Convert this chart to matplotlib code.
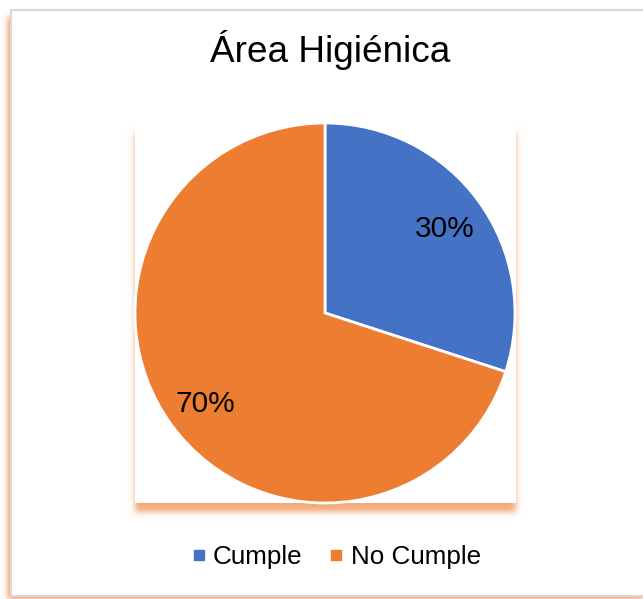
import numpy as np
import matplotlib
matplotlib.use("Agg")
import matplotlib.pyplot as plt
from matplotlib.lines import Line2D
from matplotlib.patches import Rectangle

plt.rcParams['font.family'] = ['Liberation Sans', 'DejaVu Sans']

# data
labels = ['Cumple', 'No Cumple']
values = [30, 70]
colors = ['#4472C4', '#ED7D31']
title = 'Área Higiénica'

W, H = 643, 599
fig = plt.figure(figsize=(W / 100, H / 100), dpi=100)


def blur(a, s):
    k = np.exp(-0.5 * (np.arange(-3 * s, 3 * s + 1) / s) ** 2)
    k /= k.sum()
    a = np.apply_along_axis(lambda r: np.convolve(r, k, mode='same'), 0, a)
    a = np.apply_along_axis(lambda r: np.convolve(r, k, mode='same'), 1, a)
    return a


def shadow(img, x0, y0, x1, y1, s, alpha):
    m = np.zeros((H, W))
    m[max(y0, 0):y1, max(x0, 0):x1] = 1
    m = blur(m, s) * alpha
    orange = np.array([237, 125, 49]) / 255
    img[:] = img * (1 - m[..., None]) + orange * m[..., None]


# background with soft orange shadows (chart area + plot area)
img = np.ones((H, W, 3))
shadow(img, 8, 17, W + 20, 606, 3, 0.8)
img[10:596, 11:W] = 1
shadow(img, 135, 133, 516, 512, 3, 0.65)
img[125:503, 135:516] = 1

bg = fig.add_axes([0, 0, 1, 1], zorder=0)
bg.imshow(img, extent=(0, W, H, 0), interpolation='bilinear')
bg.add_patch(Rectangle((11, 10), W, 586, fill=False, edgecolor='#d9d9d9', linewidth=1.5))
bg.set_xlim(0, W)
bg.set_ylim(H, 0)
bg.axis('off')

# pie
cx, cy, r = 325, 313, 190
ax = fig.add_axes([(cx - r) / W, (H - cy - r) / H, 2 * r / W, 2 * r / H], zorder=1)
wedges, texts, autotexts = ax.pie(values, colors=colors, startangle=90, counterclock=False,
                                  autopct='%1.0f%%', pctdistance=0.78,
                                  wedgeprops=dict(edgecolor='white', linewidth=2),
                                  textprops=dict(fontsize=21.5, color='black'))
for t in autotexts:
    x, y = t.get_position()
    t.set_position((x, y - 0.018))
ax.set_xlim(-1, 1)
ax.set_ylim(-1, 1)
ax.axis('off')

fig.text(330 / W, 1 - 50 / H, title, ha='center', va='center', fontsize=26.6)

handles = [Line2D([], [], marker='s', linestyle='none', markersize=6.5,
                  markerfacecolor=c, markeredgecolor=c) for c in colors]
fig.legend(handles, labels, loc='center', bbox_to_anchor=(337 / W, 1 - 557 / H), ncol=2,
           frameon=False, fontsize=18.7, handlelength=0.4, handletextpad=0.35,
           columnspacing=1.1, borderpad=0)

fig.savefig('out.png', dpi=100)
